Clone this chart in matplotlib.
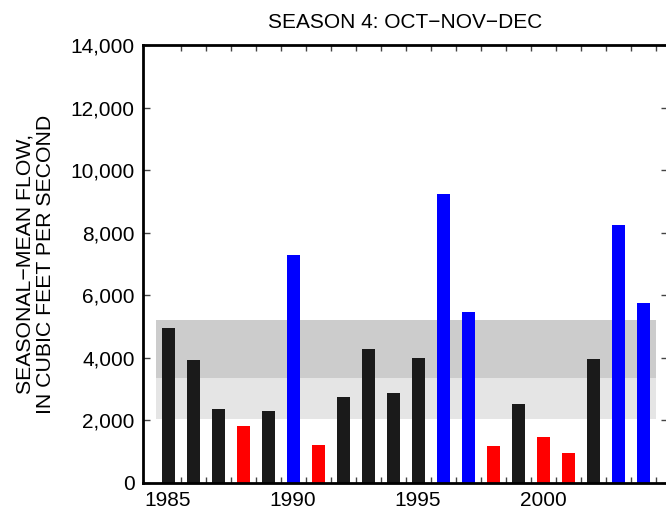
import matplotlib
matplotlib.use("Agg")
import matplotlib.pyplot as plt
import numpy as np

plt.rcParams['font.family'] = ['Liberation Sans', 'DejaVu Sans']

# seasonal-mean flow, cubic feet per second
years = list(range(1985, 2005))
flow = [4950, 3930, 2375, 1820, 2300, 7290, 1215, 2750, 4280, 2875,
        3995, 9235, 5465, 1180, 2525, 1470, 960, 3965, 8245, 5755]
# k = normal, r = dry, b = wet
kind = ['k', 'k', 'k', 'r', 'k', 'b', 'r', 'k', 'k', 'k',
        'k', 'b', 'b', 'r', 'k', 'r', 'r', 'k', 'b', 'b']
color_map = {'k': '#1a1a1a', 'r': '#ff0000', 'b': '#0000ff'}

# shaded ranges
band_low = (2050, 3350)
band_high = (3350, 5200)

fig = plt.figure(figsize=(6.66, 5.12), dpi=100)
ax = fig.add_axes([143 / 666, 29 / 512, 525 / 666, 438 / 512])

ax.fill_between([1984.5, 2004.5], band_low[0], band_low[1], color='#e5e5e5', lw=0, zorder=0)
ax.fill_between([1984.5, 2004.5], band_high[0], band_high[1], color='#cccccc', lw=0, zorder=0)

ax.bar(years, flow, width=0.52, color=[color_map[c] for c in kind], zorder=2)

ax.set_xlim(1984, 2005)
ax.set_ylim(0, 14000)
ax.set_xticks([1985, 1990, 1995, 2000])
ax.set_xticks(np.arange(1985.5, 2005, 1), minor=True)
ax.set_yticks(range(0, 14001, 2000))
ax.set_yticklabels([f'{v:,}' for v in range(0, 14001, 2000)])
ax.tick_params(axis='x', which='major', length=0, labelsize=15, pad=6)
ax.tick_params(axis='x', which='minor', direction='in', length=4, width=1,
               top=True, bottom=True, color='#444444')
ax.tick_params(axis='y', which='major', direction='in', length=5, width=1,
               left=True, right=True, labelsize=15, pad=6, color='#444444')
for s in ax.spines.values():
    s.set_linewidth(2)

ax.set_title('SEASON 4: OCT\u2212NOV\u2212DEC', fontsize=15, pad=12)
ax.set_ylabel('SEASONAL\u2212MEAN FLOW,\nIN CUBIC FEET PER SECOND', fontsize=15.3,
              linespacing=1.1, labelpad=11)

fig.savefig('out.png', dpi=100)
